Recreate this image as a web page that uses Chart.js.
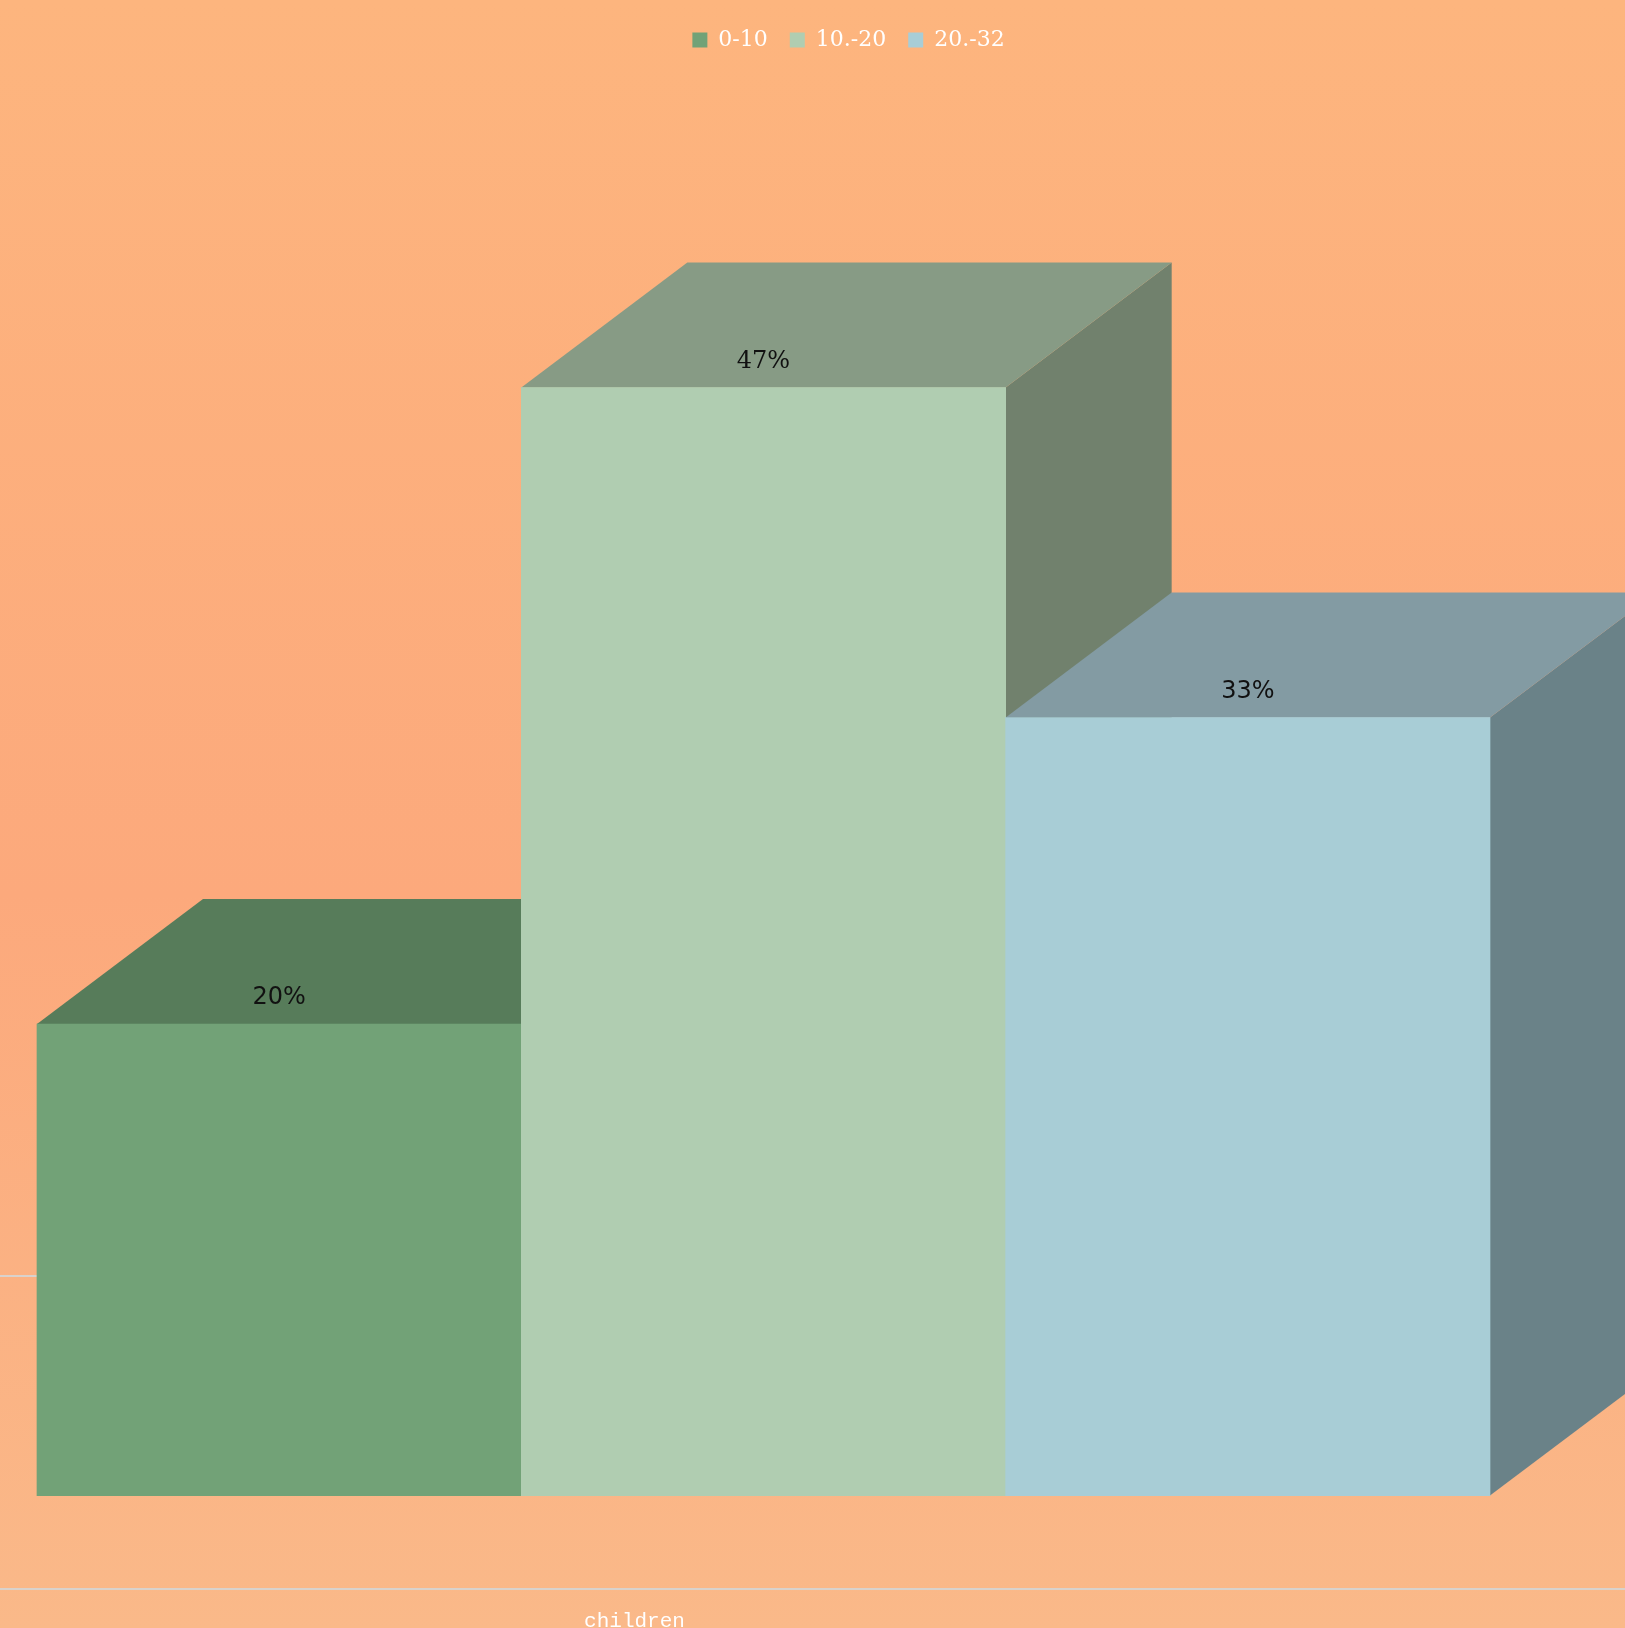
<!DOCTYPE html>
<html>
<head>
<meta charset="utf-8">
<script src="https://cdn.jsdelivr.net/npm/chart.js@4.4.1/dist/chart.umd.min.js"></script>
<style>
	body { margin: 0; }
	canvas {
		display: block;
		background: linear-gradient(180deg, #FDB57E 0%, #FCA97C 55%, #FAB989 100%);
	}
</style>
</head>
<body>
<canvas id="chart" width="1625" height="1628"></canvas>
<script>
const categories = ["children"];
const seriesNames = ["0-10", "10.-20", "20.-32"];
const seriesValues = [[20], [47], [33]];
const gridValues = [9.3];

const frontColors = ["#72A277", "#B0CDB1", "#A8CDD6"];
const topColors = ["#577C5A", "#879B85", "#839BA3"];
const sideColors = ["#4E6E51", "#71816D", "#6A8288"];
const labelFonts = ["DejaVu Sans", "DejaVu Serif", "DejaVu Sans"];
const DEPTH_X = 166;
const DEPTH_Y = 125;

// floor line, back grid line, 3d faces and value labels
const boxes3d = {
	id: "boxes3d",
	afterLayout(chart) {
		chart.legend.left += 85;
		chart.legend.right += 85;
	},
	beforeDatasetsDraw(chart) {
		const ctx = chart.ctx;
		const y = chart.scales.y;
		ctx.save();
		ctx.strokeStyle = "#D9D2CC";
		ctx.lineWidth = 2;
		for (let v of gridValues) {
			let py = Math.round(y.getPixelForValue(v));
			ctx.beginPath();
			ctx.moveTo(0, py);
			ctx.lineTo(chart.width, py);
			ctx.stroke();
		}
		let fy = Math.round(y.getPixelForValue(y.min)) - 1;
		ctx.beginPath();
		ctx.moveTo(0, fy);
		ctx.lineTo(chart.width, fy);
		ctx.stroke();
		ctx.restore();
	},
	afterDatasetsDraw(chart) {
		const ctx = chart.ctx;
		ctx.save();
		chart.data.datasets.forEach((ds, i) => {
			const meta = chart.getDatasetMeta(i);
			meta.data.forEach((bar) => {
				const x0 = bar.x - bar.width / 2;
				const x1 = bar.x + bar.width / 2;
				const yt = bar.y;
				const yb = bar.base;
				ctx.fillStyle = sideColors[i];
				ctx.beginPath();
				ctx.moveTo(x1, yt);
				ctx.lineTo(x1 + DEPTH_X, yt - DEPTH_Y);
				ctx.lineTo(x1 + DEPTH_X, yb - DEPTH_Y);
				ctx.lineTo(x1, yb);
				ctx.closePath();
				ctx.fill();
				ctx.fillStyle = topColors[i];
				ctx.beginPath();
				ctx.moveTo(x0, yt);
				ctx.lineTo(x1, yt);
				ctx.lineTo(x1 + DEPTH_X, yt - DEPTH_Y);
				ctx.lineTo(x0 + DEPTH_X, yt - DEPTH_Y);
				ctx.closePath();
				ctx.fill();
				bar.draw(ctx);
			});
		});
		ctx.fillStyle = "#111111";
		ctx.textAlign = "center";
		ctx.textBaseline = "middle";
		chart.data.datasets.forEach((ds, i) => {
			const meta = chart.getDatasetMeta(i);
			meta.data.forEach((bar, j) => {
				ctx.font = "24px '" + labelFonts[i] + "'";
				ctx.fillText(ds.data[j] + "%", bar.x, bar.y - 26);
			});
		});
		ctx.restore();
	},
};

const datasets = seriesNames.map((name, i) => ({
	label: name,
	data: seriesValues[i],
	backgroundColor: frontColors[i],
	borderWidth: 0,
	categoryPercentage: 1,
	barPercentage: 1,
}));

new Chart(document.getElementById("chart"), {
	type: "bar",
	data: { labels: categories, datasets: datasets },
	plugins: [boxes3d],
	options: {
		responsive: false,
		animation: false,
		devicePixelRatio: 1,
		layout: { padding: { top: 7, left: 37, right: 135, bottom: -25 } },
		plugins: {
			tooltip: { enabled: false },
			legend: {
				position: "top",
				labels: {
					color: "#FFFFFF",
					boxWidth: 15,
					boxHeight: 15,
					padding: 22,
					font: { family: "DejaVu Serif", size: 22 },
				},
			},
		},
		scales: {
			x: {
				grid: { display: false, drawTicks: false },
				border: { display: false },
				ticks: {
					color: "#FFFFFF",
					padding: 24,
					labelOffset: -129,
					font: { family: "Liberation Mono", size: 21, lineHeight: 0.72 },
				},
			},
			y: {
				display: false,
				min: -4,
				max: 60.85,
			},
		},
	},
});
</script>
</body>
</html>
